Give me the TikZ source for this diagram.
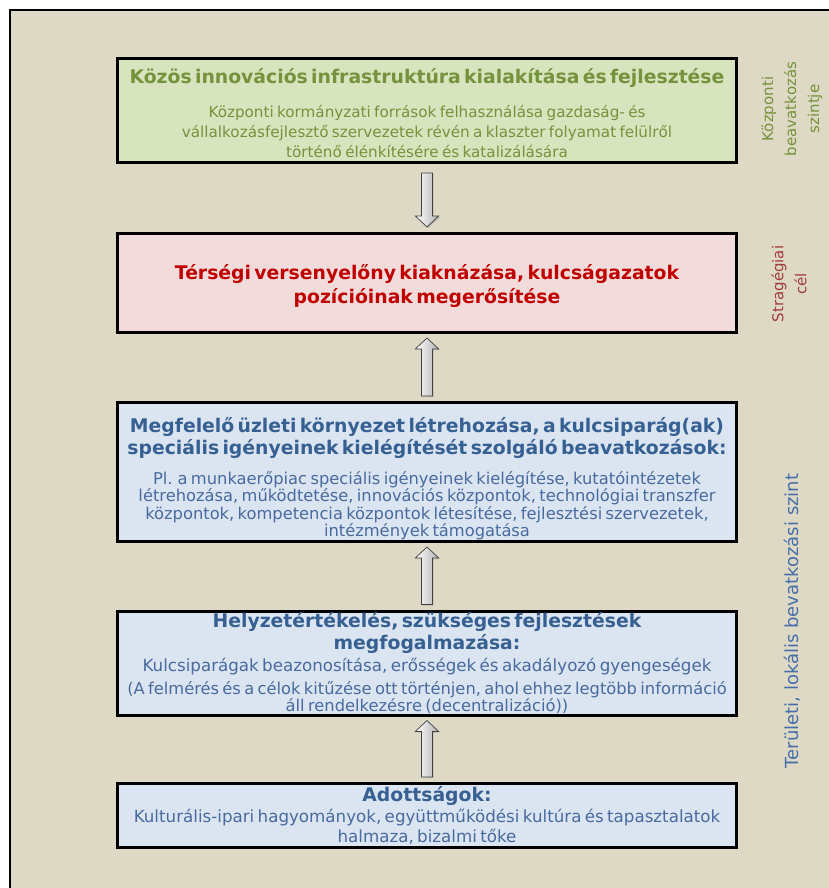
\documentclass[tikz,border=0pt]{standalone}
\usepackage{fontspec}
\setmainfont{DejaVu Sans}
\usetikzlibrary{calc,shadows}

\definecolor{framefill}{RGB}{222,217,196}
\definecolor{greenfill}{RGB}{215,228,189}
\definecolor{redfill}{RGB}{242,220,219}
\definecolor{bluefill}{RGB}{219,229,241}
\definecolor{greentext}{RGB}{118,146,60}
\definecolor{redtext}{RGB}{192,0,0}
\definecolor{bluetext}{RGB}{54,96,146}
\definecolor{bodyblue}{RGB}{72,106,158}
\definecolor{sidered}{RGB}{160,60,60}
\definecolor{sideblue}{RGB}{70,110,170}

\newcommand{\boxtitle}{\bfseries\fontsize{18.8}{22.5}\selectfont}
\newcommand{\boxbody}{\fontsize{16.5}{17.8}\selectfont}

\tikzset{
  levelbox/.style={draw, line width=3pt, minimum width=619pt, text width=616pt, align=center, inner sep=0pt},
  fatarrow/.style={draw=black!75, line width=0.7pt, left color=white, right color=black!30,
    drop shadow={shadow xshift=1.2pt, shadow yshift=-1.2pt, opacity=0.3}},
  sidelabel/.style={rotate=90, align=center, font=\fontsize{15}{23}\selectfont}
}

\begin{document}
\begin{tikzpicture}[x=1pt, y=-1pt]
\useasboundingbox (0,0) rectangle (829,888);
\begin{scope}
  \clip (0,0) rectangle (829,888);
  \fill[white] (0,0) rectangle (829,888);
  \draw[line width=2pt, fill=framefill] (10,10) rectangle (900,950);
\end{scope}

% level boxes
\node[levelbox, fill=greenfill, minimum height=104pt, text=greentext] (central) at (427,110.5)
  {{\boxtitle Közös innovációs infrastruktúra kialakítása és fejlesztése\par}\vspace{14pt}
   {\fontsize{15.2}{20}\selectfont Központi kormányzati források felhasználása gazdaság- és\\
   vállalkozásfejlesztő szervezetek révén a klaszter folyamat felülről\\
   történő élénkítésére és katalizálására\par}\vspace{-6pt}};
\node[levelbox, fill=redfill, minimum height=99pt, text=redtext] (strategy) at (427,283)
  {{\bfseries\fontsize{18.8}{23.5}\selectfont Térségi versenyelőny kiaknázása, kulcságazatok\\
   pozícióinak megerősítése\par}\vspace{-6pt}};
\node[levelbox, fill=bluefill, minimum height=139pt, text=bluetext] (support) at (427,472)
  {{\boxtitle Megfelelő üzleti környezet létrehozása, a kulcsiparág(ak)\\
   speciális igényeinek kielégítését szolgáló beavatkozások:\par}\vspace{12pt}
   {\fontsize{16.3}{17.5}\selectfont\color{bodyblue} Pl. a munkaerőpiac speciális igényeinek kielégítése, kutatóintézetek\\
   létrehozása, működtetése, innovációs központok, technológiai transzfer\\
   központok, kompetencia központok létesítése, fejlesztési szervezetek,\\
   intézmények támogatása\par}\vspace{-13pt}};
\node[levelbox, fill=bluefill, minimum height=104pt, text=bluetext] (assess) at (427,663)
  {{\boxtitle Helyzetértékelés, szükséges fejlesztések\\
   megfogalmazása:\par}\vspace{4pt}
   {\fontsize{16.7}{17.8}\selectfont\color{bodyblue} Kulcsiparágak beazonosítása, erősségek és akadályozó gyengeségek\par}\vspace{5pt}
   {\fontsize{16.3}{17.5}\selectfont\color{bodyblue} (A felmérés és a célok kitűzése ott történjen, ahol ehhez legtöbb információ\\
   áll rendelkezésre (decentralizáció))\par}};
\node[levelbox, fill=bluefill, minimum height=64pt, text=bluetext] (given) at (427,815.5)
  {{\boxtitle Adottságok:\par}
   {\fontsize{16.7}{20.5}\selectfont\color{bodyblue} Kulturális-ipari hagyományok, együttműködési kultúra és tapasztalatok\\
   halmaza, bizalmi tőke\par}};

% arrows between the levels
\draw[fatarrow, xshift=-5.5pt] let \p1=(central.south), \p2=(strategy.north) in
  ({\x1-5.5pt},{\y1-9pt}) -- ({\x1+5.5pt},{\y1-9pt}) -- ({\x1+5.5pt},{\y2+16pt})
  -- ({\x1+11.7pt},{\y2+16pt}) -- ({\x1},{\y2+5pt}) -- ({\x1-11.7pt},{\y2+16pt})
  -- ({\x1-5.5pt},{\y2+16pt}) -- cycle;
\draw[fatarrow, xshift=-5.5pt] let \p1=(support.north), \p2=(strategy.south) in
  ({\x1-5.5pt},{\y1+5pt}) -- ({\x1+5.5pt},{\y1+5pt}) -- ({\x1+5.5pt},{\y2-15pt})
  -- ({\x1+11.7pt},{\y2-15pt}) -- ({\x1},{\y2-4pt}) -- ({\x1-11.7pt},{\y2-15pt})
  -- ({\x1-5.5pt},{\y2-15pt}) -- cycle;
\draw[fatarrow, xshift=-5.5pt] let \p1=(assess.north), \p2=(support.south) in
  ({\x1-5.5pt},{\y1+5pt}) -- ({\x1+5.5pt},{\y1+5pt}) -- ({\x1+5.5pt},{\y2-15pt})
  -- ({\x1+11.7pt},{\y2-15pt}) -- ({\x1},{\y2-4pt}) -- ({\x1-11.7pt},{\y2-15pt})
  -- ({\x1-5.5pt},{\y2-15pt}) -- cycle;
\draw[fatarrow, xshift=-5.5pt] let \p1=(given.north), \p2=(assess.south) in
  ({\x1-5.5pt},{\y1+5pt}) -- ({\x1+5.5pt},{\y1+5pt}) -- ({\x1+5.5pt},{\y2-15pt})
  -- ({\x1+11.7pt},{\y2-15pt}) -- ({\x1},{\y2-4pt}) -- ({\x1-11.7pt},{\y2-15pt})
  -- ({\x1-5.5pt},{\y2-15pt}) -- cycle;

% side labels
\node[sidelabel, text=greentext] (centrallabel) at (792,109) {Központi\\beavatkozás\\szintje};
\node[sidelabel, text=sidered] (goallabel) at (789,284) {Stragégiai\\cél};
\node[sidelabel, text=sideblue, font=\fontsize{18}{22}\selectfont] (locallabel) at (792,621) {Területi, lokális bevatkozási szint};
\end{tikzpicture}
\end{document}
